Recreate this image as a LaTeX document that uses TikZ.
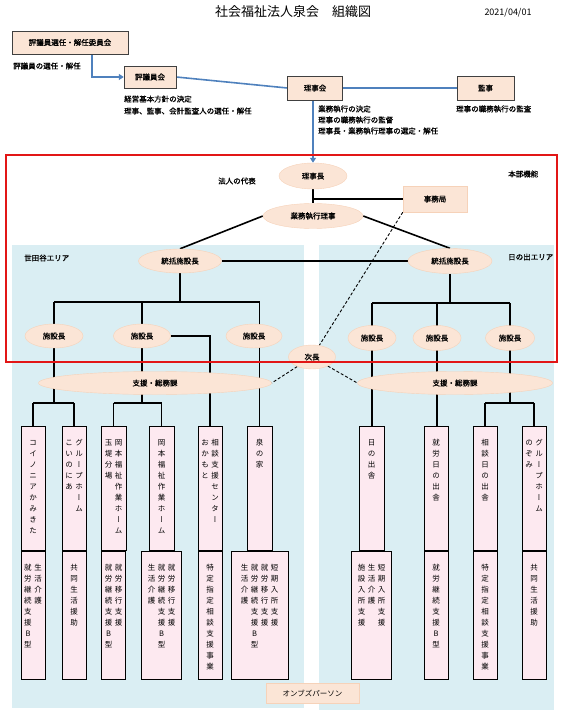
\documentclass[tikz,border=0pt]{standalone}
\usepackage{fontspec}
\setmainfont{Noto Sans CJK JP}
\newfontfamily\jpb[FakeBold=1]{Noto Sans CJK JP}
\newfontfamily\jpv[RawFeature=+vert]{Noto Sans CJK JP}
\usetikzlibrary{positioning}
\usetikzlibrary{shapes.geometric}
\usetikzlibrary{arrows.meta}

\definecolor{peach}{RGB}{251,229,214}
\definecolor{ovalline}{RGB}{246,210,185}
\definecolor{areablue}{RGB}{218,238,243}
\definecolor{pinkbox}{RGB}{253,233,240}
\definecolor{lineblue}{RGB}{79,129,189}
\definecolor{framered}{RGB}{226,22,22}

\newcommand\sz{\fontsize{7.5}{9}\selectfont}
\makeatletter
\newcommand\tcol[1]{\vtop{\baselineskip=11pt\lineskip=0pt\lineskiplimit=-\maxdimen
  \@tfor\tc@c:=#1\do{\hbox to 10pt{\vrule height 7.5pt depth 3.5pt width 0pt\hss\tc@c\hss}}}}
\makeatother
\newcommand\tate[2]{\vbox to #1{\kern 12pt\hbox{#2}\vss}}

\pgfdeclarelayer{area}
\pgfdeclarelayer{wire}
\pgfsetlayers{area,wire,main}

\begin{document}
\begin{tikzpicture}[x=1pt,y=-1pt,
    topbox/.style={draw=black!75,fill=peach,minimum height=23pt,inner sep=2pt,font=\jpb\sz},
    oval/.style={ellipse,draw=ovalline,fill=peach,inner sep=0pt,minimum height=24pt,font=\jpb\sz},
    office/.style={draw=ovalline,fill=peach,inner sep=0pt,font=\jpb\sz},
    note/.style={anchor=west,inner sep=0pt,font=\jpb\sz},
    tatebox/.style={draw=black,line width=0.8pt,fill=pinkbox,inner sep=0pt,anchor=north,minimum width=24pt,font=\jpv\sz},
    blueline/.style={draw=lineblue,line width=1.6pt},
    tree/.style={draw=black,line width=1.6pt},
    dashline/.style={draw=black,line width=0.9pt,dash pattern=on 3pt off 2pt}]
    \useasboundingbox (0,0) rectangle (567,711);

    % areas
    \begin{pgfonlayer}{area}
        \fill[areablue] (12,245) rectangle (304,708);
        \fill[areablue] (319,245) rectangle (554,710);
    \end{pgfonlayer}

    \node[font=\fontsize{13}{15}\selectfont] (title) at (293,12) {社会福祉法人泉会　組織図};
    \node[font=\fontsize{9}{10}\selectfont] (date) at (508,13) {2021/04/01};

    % governance
    \node[topbox,minimum width=116pt] (senin) at (70,42.5) {評議員選任・解任委員会};
    \node[topbox,minimum width=52pt,minimum height=22pt] (hyogi) at (150,77) {評議員会};
    \node[topbox,minimum width=55pt,minimum height=24pt] (riji) at (315,88) {理事会};
    \node[topbox,minimum width=57pt,minimum height=24pt] (kanji) at (485.5,88) {監事};

    \node[note] (n1) at (13,66) {評議員の選任・解任};
    \node[note] (n2) at (124,99) {経営基本方針の決定};
    \node[note] (n3) at (124,111) {理事、監事、会計監査人の選任・解任};
    \node[note] (n4) at (318,109) {業務執行の決定};
    \node[note] (n5) at (318,120) {理事の職務執行の監督};
    \node[note] (n6) at (318,131) {理事長・業務執行理事の選定・解任};
    \node[note] (n7) at (456,109) {理事の職務執行の監査};

    \node[note] (honbu) at (508,174) {本部機能};
    \node[note] (daihyo) at (218,181) {法人の代表};
    \node[note] (setagaya) at (24,258) {世田谷エリア};
    \node[note] (hinode) at (508,257) {日の出エリア};

    % head office
    \node[oval,minimum width=68pt,minimum height=26pt] (richo) at (313,176) {理事長};
    \node[oval,minimum width=100pt,minimum height=25pt] (gyomu) at (313,216) {業務執行理事};
    \node[office,minimum width=64pt,minimum height=26pt] (jimu) at (435,199) {事務局};

    \node[oval,minimum width=83pt] (tL) at (180,261) {統括施設長};
    \node[oval,minimum width=84pt,minimum height=25pt] (tR) at (450,261) {統括施設長};

    \node[oval,minimum width=58pt] (sL1) at (54,336) {施設長};
    \node[oval,minimum width=57pt] (sL2) at (142,336) {施設長};
    \node[oval,minimum width=56pt] (sL3) at (254,336) {施設長};
    \node[oval,minimum width=48pt,minimum height=25pt] (sR1) at (372,338) {施設長};
    \node[oval,minimum width=48pt,minimum height=25pt] (sR2) at (437,338) {施設長};
    \node[oval,minimum width=49pt,minimum height=25pt] (sR3) at (510,338) {施設長};

    \node[oval,minimum width=47pt] (jicho) at (312,357) {次長};
    \node[oval,minimum width=233pt,minimum height=23pt] (shienL) at (155,383) {支援・総務課};
    \node[oval,minimum width=195pt,minimum height=23pt] (shienR) at (455,383) {支援・総務課};

    % facilities
    \node[tatebox] (b1) at (33,426) {\tate{124pt}{\tcol{コイノニアかみきた}}};
    \node[tatebox] (b2) at (74,426) {\tate{124pt}{\tcol{こいのにあ}\tcol{グループホーム}}};
    \node[tatebox,minimum width=25pt] (b3) at (113.5,426) {\tate{124pt}{\tcol{玉堤分場}\tcol{岡本福祉作業ホーム}}};
    \node[tatebox,minimum width=25pt] (b4) at (161.5,426) {\tate{124pt}{\tcol{岡本福祉作業ホーム}}};
    \node[tatebox] (b5) at (210,426) {\tate{124pt}{\tcol{おかもと}\tcol{相談支援センター}}};
    \node[tatebox,minimum width=25pt] (b6) at (259.5,426) {\tate{124pt}{\tcol{泉の家}}};
    \node[tatebox,minimum width=25pt] (r1) at (371.5,426) {\tate{124pt}{\tcol{日の出舎}}};
    \node[tatebox] (r2) at (436,426) {\tate{124pt}{\tcol{就労日の出舎}}};
    \node[tatebox] (r3) at (485,426) {\tate{124pt}{\tcol{相談日の出舎}}};
    \node[tatebox] (r4) at (534,426) {\tate{124pt}{\tcol{のぞみ}\tcol{グループホーム}}};

    \node[tatebox,below=0pt of b1] (b1s) {\tate{128pt}{\tcol{就労継続支援B型}\tcol{生活介護}}};
    \node[tatebox,below=0pt of b2] (b2s) {\tate{128pt}{\tcol{共同生活援助}}};
    \node[tatebox,below=0pt of b3] (b3s) {\tate{128pt}{\tcol{就労継続支援B型}\tcol{就労移行支援}}};
    \node[tatebox,below=0pt of b4,minimum width=40pt] (b4s) {\tate{128pt}{\tcol{生活介護}\tcol{就労継続支援B型}\tcol{就労移行支援}}};
    \node[tatebox,below=0pt of b5] (b5s) {\tate{128pt}{\tcol{特定指定相談支援事業}}};
    \node[tatebox,below=0pt of b6,minimum width=57pt] (b6s) {\tate{128pt}{\tcol{生活介護}\tcol{就労継続支援B型}\tcol{就労移行支援}\tcol{短期入所支援}}};
    \node[tatebox,below=0pt of r1,minimum width=40pt] (r1s) {\tate{128pt}{\tcol{施設入所支援}\tcol{生活介護}\tcol{短期入所支援}}};
    \node[tatebox,below=0pt of r2] (r2s) {\tate{128pt}{\tcol{就労継続支援B型}}};
    \node[tatebox,below=0pt of r3] (r3s) {\tate{128pt}{\tcol{特定指定相談支援事業}}};
    \node[tatebox,below=0pt of r4] (r4s) {\tate{128pt}{\tcol{共同生活援助}}};

    \node[office,minimum width=93pt,minimum height=20pt,font=\sz] (ombuds) at (312.5,693) {オンブズパーソン};

    \coordinate (barL) at (0,302);
    \coordinate (barR) at (0,303);
    \coordinate (barB) at (0,403);

    % connectors
    \begin{pgfonlayer}{wire}
        \draw[blueline,-{Triangle[length=5pt,width=6pt]}] ([xshift=22pt]senin.south) |- (hyogi.west);
        \draw[blueline] (hyogi.east) -- (riji.west);
        \draw[blueline] (riji.east) -- (kanji.west);
        \draw[blueline,-{Triangle[length=5pt,width=6pt]}] (richo |- riji.south) -- (richo.north);

        \draw[tree] (richo) -- (gyomu);
        \draw[tree] (jimu.west) -- (jimu.west -| richo);
        \draw[tree] (gyomu.west) -- (tL.north);
        \draw[tree] (gyomu.east) -- (tR.north);
        \draw[tree] (tL) -- (tR);

        \draw[tree] (tL) -- (tL |- barL);
        \draw[tree] (sL1 |- barL) -- (b6 |- barL);
        \draw[tree] (sL1 |- barL) -- (sL1);
        \draw[tree] (sL2 |- barL) -- (sL2);
        \draw[tree] (b6 |- barL) -- (b6.north);
        \draw[tree] (sL2.east) -| (b5.north);
        \draw[tree] (sL1) -- (sL1 |- barB);
        \draw[tree] (b1 |- barB) -- (b2 |- barB);
        \draw[tree] (b1 |- barB) -- (b1.north);
        \draw[tree] (b2 |- barB) -- (b2.north);
        \draw[tree] (sL2) -- (sL2 |- barB);
        \draw[tree] (b3 |- barB) -- (b4 |- barB);
        \draw[tree] (b3 |- barB) -- (b3.north);
        \draw[tree] (b4 |- barB) -- (b4.north);

        \draw[tree] (tR) -- (tR |- barR);
        \draw[tree] (sR1 |- barR) -- (sR3 |- barR);
        \draw[tree] (sR1 |- barR) -- (sR1 |- r1.north);
        \draw[tree] (sR2 |- barR) -- (sR2 |- r2.north);
        \draw[tree] (sR3 |- barR) -- (sR3 |- barB);
        \draw[tree] (r3 |- barB) -- (r4 |- barB);
        \draw[tree] (r3 |- barB) -- (r3.north);
        \draw[tree] (r4 |- barB) -- (r4.north);

        \draw[dashline] (jimu.south west) -- (jicho);
        \draw[dashline] (jicho) -- (shienL.east);
        \draw[dashline] (jicho) -- (shienR.west);
    \end{pgfonlayer}

    % head office frame
    \draw[framered,line width=1.5pt] (6,155) rectangle (557,362);
\end{tikzpicture}
\end{document}
